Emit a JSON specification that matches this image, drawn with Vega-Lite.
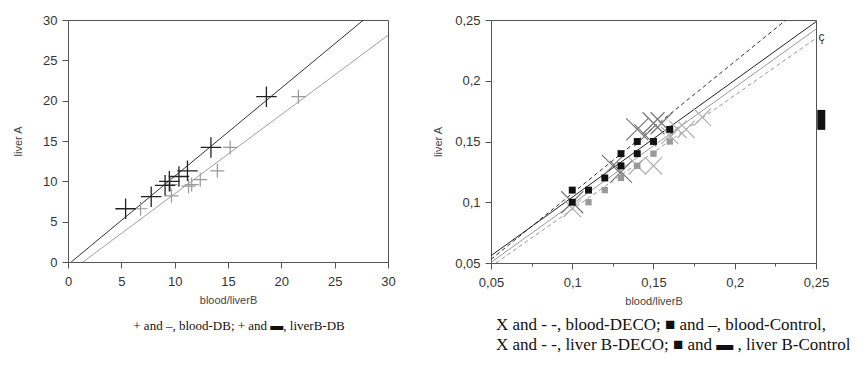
{
  "$schema": "https://vega.github.io/schema/vega-lite/v6.json",
  "background": "white",
  "padding": {"left": 12, "top": 13, "right": 5, "bottom": 5},
  "spacing": 36,
  "config": {
    "view": {"stroke": "#555", "strokeWidth": 1},
    "axis": {"domainColor": "#555", "tickColor": "#555", "labelFont": "Liberation Sans", "labelFontSize": 13, "labelColor": "#333", "titleFont": "Liberation Sans", "titleFontSize": 11, "titleFontWeight": "normal", "titleColor": "#444", "grid": false, "labelFlush": false, "labelOverlap": false},
    "axisX": {"labelPadding": 7, "titlePadding": 6},
    "axisY": {"labelPadding": 5},
    "title": {"font": "Liberation Serif", "fontWeight": "normal", "color": "#111", "orient": "bottom", "frame": "group"}
  },
  "hconcat": [
    {
      "width": 320,
      "height": 242,
      "title": {"text": "+ and –, blood-DB; + and ▬, liverB-DB", "fontSize": 13, "offset": 15, "anchor": "middle", "dx": 11},
      "layer": [
        {
          "data": {"values": [
            {"series": "blood", "x": 1.4, "y": 0},
            {"series": "blood", "x": 30, "y": 28.1}
          ]},
          "mark": {"type": "line", "clip": true, "strokeWidth": 1, "color": "#a0a0a0"},
          "encoding": {
            "x": {"field": "x", "type": "quantitative", "scale": {"domain": [0, 30], "nice": false, "zero": false},
              "axis": {"title": "blood/liverB", "values": [0, 2.5, 5, 7.5, 10, 12.5, 15, 17.5, 20, 22.5, 25, 27.5, 30],
                "labelExpr": "datum.value % 5 === 0 ? datum.label : ''",
                "tickSize": {"condition": {"test": "datum.value % 5 === 0", "value": 6}, "value": 3}}},
            "y": {"field": "y", "type": "quantitative", "scale": {"domain": [0, 30], "nice": false, "zero": false},
              "axis": {"title": "liver A", "titlePadding": 19, "values": [0, 2.5, 5, 7.5, 10, 12.5, 15, 17.5, 20, 22.5, 25, 27.5, 30],
                "labelExpr": "datum.value % 5 === 0 ? datum.label : ''",
                "tickSize": {"condition": {"test": "datum.value % 5 === 0", "value": 6}, "value": 3}}}
          }
        },
        {
          "data": {"values": [
            {"series": "liver", "x": 0.3, "y": 0},
            {"series": "liver", "x": 27.7, "y": 30}
          ]},
          "mark": {"type": "line", "clip": true, "strokeWidth": 1, "color": "#333"},
          "encoding": {"x": {"field": "x", "type": "quantitative"}, "y": {"field": "y", "type": "quantitative"}}
        },
        {
          "data": {"values": [
            {"x": 6.8, "y": 6.6}, {"x": 9.7, "y": 8.2}, {"x": 9.6, "y": 9.6}, {"x": 11.3, "y": 9.4},
            {"x": 11.6, "y": 9.6}, {"x": 12.4, "y": 10.2}, {"x": 14.0, "y": 11.3}, {"x": 15.2, "y": 14.2}, {"x": 21.6, "y": 20.5}
          ]},
          "mark": {"type": "point", "shape": "M-1,0L1,0M0,-1L0,1", "size": 196, "color": "#999", "strokeWidth": 1.2, "opacity": 1},
          "encoding": {"x": {"field": "x", "type": "quantitative"}, "y": {"field": "y", "type": "quantitative"}}
        },
        {
          "data": {"values": [
            {"x": 5.4, "y": 6.6}, {"x": 7.8, "y": 8.1}, {"x": 9.1, "y": 9.5}, {"x": 9.5, "y": 10.0},
            {"x": 10.4, "y": 10.6}, {"x": 11.2, "y": 11.3}, {"x": 13.4, "y": 14.2}, {"x": 18.6, "y": 20.5}
          ]},
          "mark": {"type": "point", "shape": "M-1,0L1,0M0,-1L0,1", "size": 420, "color": "#222", "strokeWidth": 1.3, "opacity": 1},
          "encoding": {"x": {"field": "x", "type": "quantitative"}, "y": {"field": "y", "type": "quantitative"}}
        }
      ]
    },
    {
      "width": 325,
      "height": 243,
      "title": {"text": ["X and - -, blood-DECO; ■ and –, blood-Control,", "X and - -, liver B-DECO; ■ and ▬ , liver B-Control"], "fontSize": 17, "lineHeight": 20, "offset": 11, "anchor": "start", "align": "left", "dx": 5},
      "layer": [
        {
          "data": {"values": [
            {"x": 0.05, "y": 0.053},
            {"x": 0.2315, "y": 0.25}
          ]},
          "mark": {"type": "line", "clip": true, "strokeWidth": 1, "color": "#333", "strokeDash": [4, 3]},
          "encoding": {
            "x": {"field": "x", "type": "quantitative", "scale": {"domain": [0.05, 0.25], "nice": false, "zero": false},
              "axis": {"title": "blood/liverB", "values": [0.05, 0.075, 0.1, 0.125, 0.15, 0.175, 0.2, 0.225, 0.25],
                "labelExpr": "round(datum.value*40) % 2 === 0 ? replace(format(datum.value, '.2~f'), '.', ',') : ''",
                "tickSize": {"condition": {"test": "round(datum.value*40) % 2 === 0", "value": 6}, "value": 3}}},
            "y": {"field": "y", "type": "quantitative", "scale": {"domain": [0.05, 0.25], "nice": false, "zero": false},
              "axis": {"title": "liver A", "titlePadding": 11, "values": [0.05, 0.075, 0.1, 0.125, 0.15, 0.175, 0.2, 0.225, 0.25],
                "labelExpr": "round(datum.value*40) % 2 === 0 ? replace(format(datum.value, '.2~f'), '.', ',') : ''",
                "tickSize": {"condition": {"test": "round(datum.value*40) % 2 === 0", "value": 6}, "value": 3}}}
          }
        },
        {
          "data": {"values": [
            {"x": 0.05, "y": 0.056},
            {"x": 0.25, "y": 0.2486}
          ]},
          "mark": {"type": "line", "clip": true, "strokeWidth": 1, "color": "#222"},
          "encoding": {"x": {"field": "x", "type": "quantitative"}, "y": {"field": "y", "type": "quantitative"}}
        },
        {
          "data": {"values": [
            {"x": 0.05, "y": 0.0505},
            {"x": 0.25, "y": 0.2425}
          ]},
          "mark": {"type": "line", "clip": true, "strokeWidth": 1, "color": "#999"},
          "encoding": {"x": {"field": "x", "type": "quantitative"}, "y": {"field": "y", "type": "quantitative"}}
        },
        {
          "data": {"values": [
            {"x": 0.053, "y": 0.05},
            {"x": 0.25, "y": 0.235}
          ]},
          "mark": {"type": "line", "clip": true, "strokeWidth": 1, "color": "#999", "strokeDash": [4, 3]},
          "encoding": {"x": {"field": "x", "type": "quantitative"}, "y": {"field": "y", "type": "quantitative"}}
        },
        {
          "data": {"values": [
            {"x": 0.10, "y": 0.095}, {"x": 0.14, "y": 0.13}, {"x": 0.15, "y": 0.13}, {"x": 0.16, "y": 0.155},
            {"x": 0.165, "y": 0.16}, {"x": 0.17, "y": 0.16}, {"x": 0.18, "y": 0.17}
          ]},
          "mark": {"type": "point", "shape": "M-1,-1L1,1M-1,1L1,-1", "size": 300, "color": "#b0b0b0", "strokeWidth": 1.2, "opacity": 1},
          "encoding": {"x": {"field": "x", "type": "quantitative"}, "y": {"field": "y", "type": "quantitative"}}
        },
        {
          "data": {"values": [
            {"x": 0.10, "y": 0.10}, {"x": 0.125, "y": 0.13}, {"x": 0.13, "y": 0.125}, {"x": 0.14, "y": 0.16},
            {"x": 0.145, "y": 0.155}, {"x": 0.15, "y": 0.165}, {"x": 0.155, "y": 0.165}
          ]},
          "mark": {"type": "point", "shape": "M-1,-1L1,1M-1,1L1,-1", "size": 484, "color": "#777", "strokeWidth": 1.2, "opacity": 1},
          "encoding": {"x": {"field": "x", "type": "quantitative"}, "y": {"field": "y", "type": "quantitative"}}
        },
        {
          "data": {"values": [
            {"x": 0.11, "y": 0.10}, {"x": 0.12, "y": 0.11}, {"x": 0.13, "y": 0.12}, {"x": 0.14, "y": 0.13},
            {"x": 0.15, "y": 0.14}, {"x": 0.16, "y": 0.15}
          ]},
          "mark": {"type": "square", "size": 40, "color": "#999", "opacity": 1},
          "encoding": {"x": {"field": "x", "type": "quantitative"}, "y": {"field": "y", "type": "quantitative"}}
        },
        {
          "data": {"values": [
            {"x": 0.10, "y": 0.11}, {"x": 0.10, "y": 0.10}, {"x": 0.11, "y": 0.11}, {"x": 0.12, "y": 0.12},
            {"x": 0.13, "y": 0.14}, {"x": 0.13, "y": 0.13}, {"x": 0.14, "y": 0.14}, {"x": 0.14, "y": 0.15},
            {"x": 0.15, "y": 0.15}, {"x": 0.16, "y": 0.16}
          ]},
          "mark": {"type": "square", "size": 48, "color": "#111", "opacity": 1},
          "encoding": {"x": {"field": "x", "type": "quantitative"}, "y": {"field": "y", "type": "quantitative"}}
        },
        {
          "data": {"values": [{"x": 0.2508, "x2": 0.2557, "y": 0.1596, "y2": 0.176}]},
          "mark": {"type": "rect", "color": "#111", "opacity": 1},
          "encoding": {"x": {"field": "x", "type": "quantitative"}, "x2": {"field": "x2"}, "y": {"field": "y", "type": "quantitative"}, "y2": {"field": "y2"}}
        },
        {
          "data": {"values": [{"x": 0.2515, "y": 0.236, "t": "ç"}]},
          "mark": {"type": "text", "align": "left", "baseline": "middle", "font": "Liberation Sans", "fontSize": 12, "color": "#333"},
          "encoding": {"x": {"field": "x", "type": "quantitative"}, "y": {"field": "y", "type": "quantitative"}, "text": {"field": "t"}}
        }
      ]
    }
  ]
}
